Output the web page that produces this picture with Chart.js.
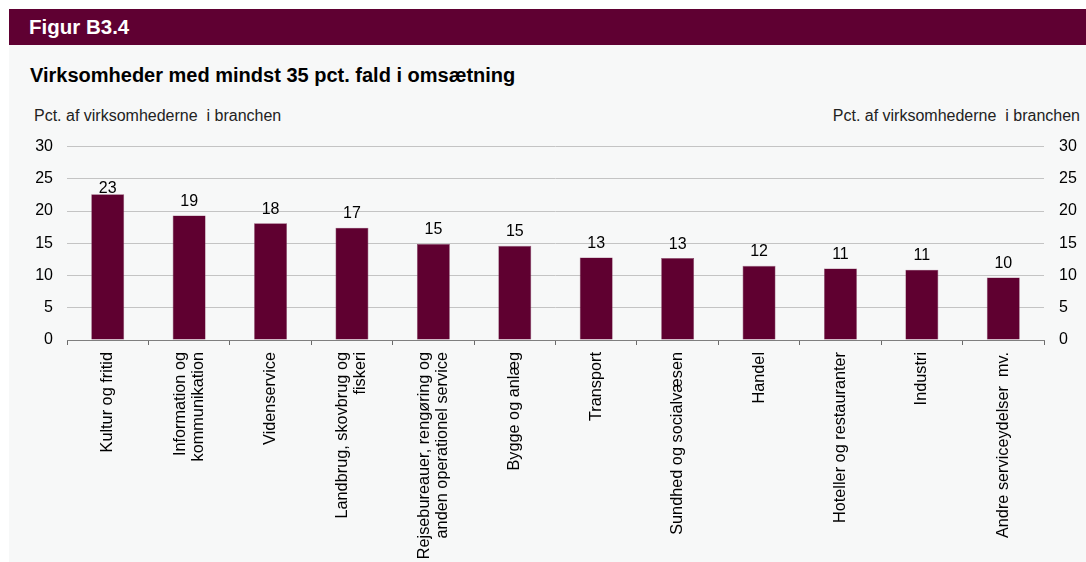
<!DOCTYPE html>
<html>
<head>
<meta charset="utf-8">
<script src="https://cdn.jsdelivr.net/npm/chart.js@4"></script>
<style>
  html, body { margin: 0; padding: 0; background: #ffffff; width: 1086px; height: 562px; overflow: hidden; }
  #panel { position: absolute; left: 9px; top: 45px; width: 1077px; height: 517px; background: #f7f8f8; }
  #bar { position: absolute; left: 9px; top: 9px; width: 1077px; height: 36px; background: #5f0032; }
  .t { position: absolute; font-family: "Liberation Sans", Arial, sans-serif; white-space: nowrap; }
  #fig { left: 29px; top: 15px; color: #fff; font-weight: bold; font-size: 20.5px; }
  #sub { left: 30px; top: 64px; color: #000; font-weight: bold; font-size: 20px; }
  #ytl { left: 34px; top: 107px; color: #222; font-size: 16px; }
  #ytr { right: 6px; top: 107px; color: #222; font-size: 16px; }
  #wrap { position: absolute; left: 0; top: 0; width: 1086px; height: 562px; }
</style>
</head>
<body>
<div id="bar"></div>
<div id="panel"></div>
<div class="t" id="fig">Figur B3.4</div>
<div class="t" id="sub">Virksomheder med mindst 35 pct. fald i omsætning</div>
<div class="t" id="ytl">Pct. af virksomhederne&nbsp; i branchen</div>
<div class="t" id="ytr">Pct. af virksomhederne&nbsp; i branchen</div>
<div id="wrap"><canvas id="c" width="1086" height="562"></canvas></div>
<script>
const categories = [
  "Kultur og fritid",
  ["Information og", "kommunikation"],
  "Videnservice",
  ["Landbrug, skovbrug og", "fiskeri"],
  ["Rejsebureauer, rengøring og", "anden operationel service"],
  "Bygge og anlæg",
  "Transport",
  "Sundhed og socialvæsen",
  "Handel",
  "Hoteller og restauranter",
  "Industri",
  "Andre serviceydelser  mv."
];
const values = [22.6, 19.3, 18.1, 17.4, 14.9, 14.6, 12.8, 12.7, 11.5, 11.1, 10.9, 9.7];
const yTicks = [0, 5, 10, 15, 20, 25, 30];

const FONT = "'Liberation Sans', Arial, sans-serif";

const labelPlugin = {
  id: 'barLabels',
  afterDatasetsDraw(chart) {
    const ctx = chart.ctx;
    const meta = chart.getDatasetMeta(0);
    ctx.save();
    ctx.font = "16px " + FONT;
    ctx.fillStyle = "#000";
    ctx.textAlign = "center";
    ctx.textBaseline = "alphabetic";
    meta.data.forEach((bar, i) => {
      const gap = i === 0 ? 1.5 : 9.5;
      ctx.fillText(String(Math.round(values[i])), bar.x, bar.y - gap);
    });
    ctx.restore();

    // category labels, rotated, multi-line centred on the category
    const xs = chart.scales.x;
    const yTop = xs.top + 5 + 7;
    const lh = 18;
    ctx.save();
    ctx.font = "16.3px " + FONT;
    ctx.fillStyle = "#000";
    ctx.textAlign = "right";
    ctx.textBaseline = "middle";
    categories.forEach((lab, i) => {
      const lines = Array.isArray(lab) ? lab : [lab];
      const cx = xs.getPixelForTick(i);
      ctx.save();
      ctx.translate(cx, yTop);
      ctx.rotate(-Math.PI / 2);
      lines.forEach((ln, j) => {
        ctx.fillText(ln, 0, (j - (lines.length - 1) / 2) * lh);
      });
      ctx.restore();
    });
    ctx.restore();
  }
};

new Chart(document.getElementById('c'), {
  type: 'bar',
  data: {
    labels: categories,
    datasets: [{
      data: values,
      backgroundColor: '#5f0030',
      borderColor: '#8a4a6a',
      borderWidth: 0.6,
      barPercentage: 0.405,
      categoryPercentage: 1.0
    }]
  },
  options: {
    responsive: false,
    animation: false,
    devicePixelRatio: 1,
    layout: { padding: { left: 0, right: 0, top: 146.5, bottom: 0 } },
    plugins: { legend: { display: false }, tooltip: { enabled: false } },
    scales: {
      x: {
        grid: { offset: true, drawOnChartArea: false, drawTicks: true, tickLength: 5, color: '#6b6b6b', lineWidth: 1 },
        border: { display: true, color: '#7f7f7f', width: 1 },
        ticks: {
          color: 'rgba(0,0,0,0)', font: { family: FONT, size: 16.3, lineHeight: 1.12 },
          maxRotation: 90, minRotation: 90, autoSkip: false, padding: 6
        },
        afterFit(s) { s.height = 222; }
      },
      y: {
        position: 'left', min: 0, max: 30,
        afterBuildTicks(s) { s.ticks = yTicks.map(v => ({ value: v })); },
        grid: { drawTicks: false, color: (c) => c.tick && c.tick.value === 0 ? 'rgba(0,0,0,0)' : '#c4c4c4', lineWidth: 1 },
        border: { display: false },
        ticks: { color: '#000', font: { family: FONT, size: 16 }, padding: 14 },
        afterFit(s) { s.width = 67; }
      },
      y2: {
        display: true, position: 'right', min: 0, max: 30,
        afterBuildTicks(s) { s.ticks = yTicks.map(v => ({ value: v })); },
        grid: { drawOnChartArea: false, drawTicks: false },
        border: { display: false },
        ticks: { color: '#000', font: { family: FONT, size: 16 }, padding: 15 },
        afterFit(s) { s.width = 42; }
      }
    }
  },
  plugins: [labelPlugin]
});
</script>
</body>
</html>
